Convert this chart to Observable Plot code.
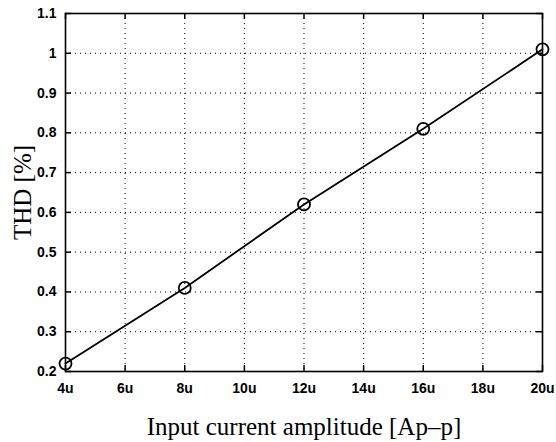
<!DOCTYPE html>
<html>
<head>
<meta charset="utf-8">
<script src="https://cdn.jsdelivr.net/npm/d3@7"></script>
<script src="https://cdn.jsdelivr.net/npm/@observablehq/plot@0.6"></script>
<style>
  html, body { margin: 0; padding: 0; background: #fff; }
  #chart { width: 556px; height: 442px; }
  #chart g[aria-label$="tick label"] { font-size: 14px; font-weight: bold; }
</style>
</head>
<body>
<div id="chart"></div>
<script>
const amplitude = [4, 8, 12, 16, 20];           // input current amplitude (uA p-p)
const thd = [0.22, 0.41, 0.62, 0.81, 1.01];       // THD [%]
const xTicks = [4, 6, 8, 10, 12, 14, 16, 18, 20];
const yTicks = [0.2, 0.3, 0.4, 0.5, 0.6, 0.7, 0.8, 0.9, 1.0, 1.1];
const xLabel = "Input current amplitude [Ap\u2013p]";
const yLabel = "THD [%]";

const data = amplitude.map((a, i) => ({amp: a, thd: thd[i]}));

const W = 556, H = 442;
const mL = 65, mR = 14, mT = 13, mB = 71;
const fw = W - mL - mR, fh = H - mT - mB;
const tk = 6;

const chart = Plot.plot({
  width: W,
  height: H,
  marginLeft: mL,
  marginRight: mR,
  marginTop: mT,
  marginBottom: mB,
  style: {fontFamily: "'Liberation Sans', Arial, sans-serif", fontSize: "14px", background: "#fff", color: "#000"},
  x: {domain: [4, 20], nice: false},
  y: {domain: [0.2, 1.1], nice: false},
  marks: [
    Plot.ruleX(xTicks, {x: d => d, stroke: "#000", strokeWidth: 1, strokeDasharray: "1,4"}),
    Plot.ruleY(yTicks, {y: d => d, stroke: "#000", strokeWidth: 1, strokeDasharray: "1,4"}),
    // inward tick marks on all four sides
    Plot.tickY(yTicks, {y: d => d, insetRight: fw - tk, stroke: "#000", strokeWidth: 1.5}),
    Plot.tickY(yTicks, {y: d => d, insetLeft: fw - tk, stroke: "#000", strokeWidth: 1.5}),
    Plot.tickX(xTicks, {x: d => d, insetTop: fh - tk, stroke: "#000", strokeWidth: 1.5}),
    Plot.tickX(xTicks, {x: d => d, insetBottom: fh - tk, stroke: "#000", strokeWidth: 1.5}),
    Plot.frame({stroke: "#000", strokeWidth: 1.6}),
    Plot.axisX(xTicks, {tickSize: 0, tickPadding: 12, tickFormat: d => d + "u", label: null, fontSize: 14}),
    Plot.axisY(yTicks, {tickSize: 0, tickPadding: 9, tickFormat: d => String(+d.toFixed(1)), label: null, fontSize: 14}),
    Plot.line(data, {x: "amp", y: "thd", stroke: "#000", strokeWidth: 1.8}),
    Plot.dot(data, {x: "amp", y: "thd", r: 6, stroke: "#000", strokeWidth: 1.8, fill: "none"}),
    Plot.text([xLabel], {text: d => d, frameAnchor: "bottom", dy: 63, lineAnchor: "bottom",
      fontFamily: "'Liberation Serif', 'Times New Roman', serif", fontSize: 25, fill: "#000"}),
    Plot.text([yLabel], {text: d => d, frameAnchor: "left", dx: -43, rotate: -90, textAnchor: "middle",
      fontFamily: "'Liberation Serif', 'Times New Roman', serif", fontSize: 25, fill: "#000"})
  ]
});
document.getElementById("chart").appendChild(chart);
</script>
</body>
</html>
